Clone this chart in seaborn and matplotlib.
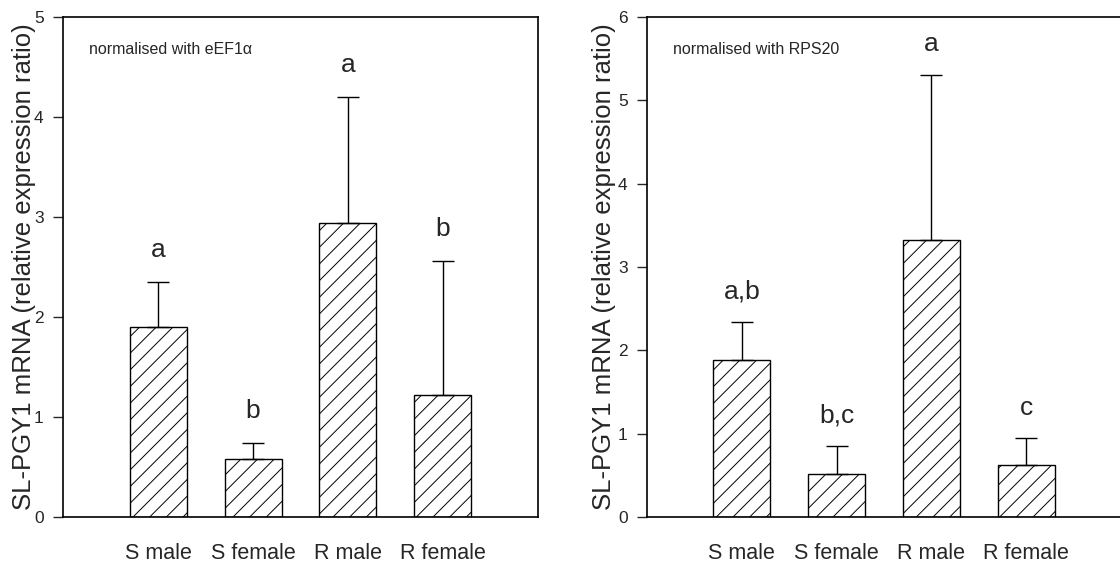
import numpy as np
import pandas as pd
import matplotlib
matplotlib.use("Agg")
import matplotlib.pyplot as plt
import seaborn as sns

sns.set_style("ticks")
plt.rcParams['font.family'] = ['Liberation Sans', 'DejaVu Sans']
plt.rcParams['hatch.color'] = '#333333'
plt.rcParams['hatch.linewidth'] = 0.7

# data
groups = ['S male', 'S female', 'R male', 'R female']

eef_mean = [1.90, 0.58, 2.94, 1.22]
eef_top = [2.35, 0.74, 4.20, 2.56]     # top of the error bars
eef_letters = ['a', 'b', 'a', 'b']

rps_mean = [1.89, 0.52, 3.33, 0.62]
rps_top = [2.34, 0.85, 5.31, 0.95]
rps_letters = ['a,b', 'b,c', 'a', 'c']

ylabel = 'SL-PGY1 mRNA (relative expression ratio)'


def draw_panel(ax, mean, top, letters, ymax, note, letter_gap, label_x):
    df = pd.DataFrame({'group': groups, 'value': mean})
    sns.barplot(data=df, x='group', y='value', order=groups, ax=ax,
                color='white', edgecolor='black', linewidth=1.0,
                width=0.6, errorbar=None, hatch='//')
    err = np.array(top) - np.array(mean)
    ax.errorbar(range(len(groups)), mean, yerr=[np.zeros(len(err)), err],
                fmt='none', ecolor='black', elinewidth=1.0, capsize=8,
                capthick=1.0)
    for i, lab in enumerate(letters):
        ax.text(i, top[i] + letter_gap, lab, ha='center', va='bottom',
                fontsize=19)
    ax.set_xlim(-1, 4)
    ax.set_ylim(0, ymax)
    ax.set_yticks(range(0, ymax + 1))
    ax.tick_params(axis='y', direction='out', length=7, width=1,
                   labelsize=12.5, pad=7)
    ax.tick_params(axis='x', length=0, labelsize=15.5, pad=19)
    ax.set_xlabel('')
    ax.set_ylabel(ylabel, fontsize=18.5, va='center')
    ax.yaxis.set_label_coords(label_x, 0.5)
    for sp in ax.spines.values():
        sp.set_linewidth(1.2)
        sp.set_color('black')
    ax.text(0.055, 0.935, note, transform=ax.transAxes, fontsize=11.5,
            ha='left', va='center')


fig = plt.figure(figsize=(11.2, 5.63), dpi=100)
ax1 = fig.add_axes([0.0563, 0.0817, 0.424, 0.888])
ax2 = fig.add_axes([0.5777, 0.0817, 0.4232, 0.888])

draw_panel(ax1, eef_mean, eef_top, eef_letters, 5,
           'normalised with eEF1\u03b1', 0.2, -0.083)
draw_panel(ax2, rps_mean, rps_top, rps_letters, 6,
           'normalised with RPS20', 0.22, -0.09)

fig.savefig('out.png', dpi=100)
